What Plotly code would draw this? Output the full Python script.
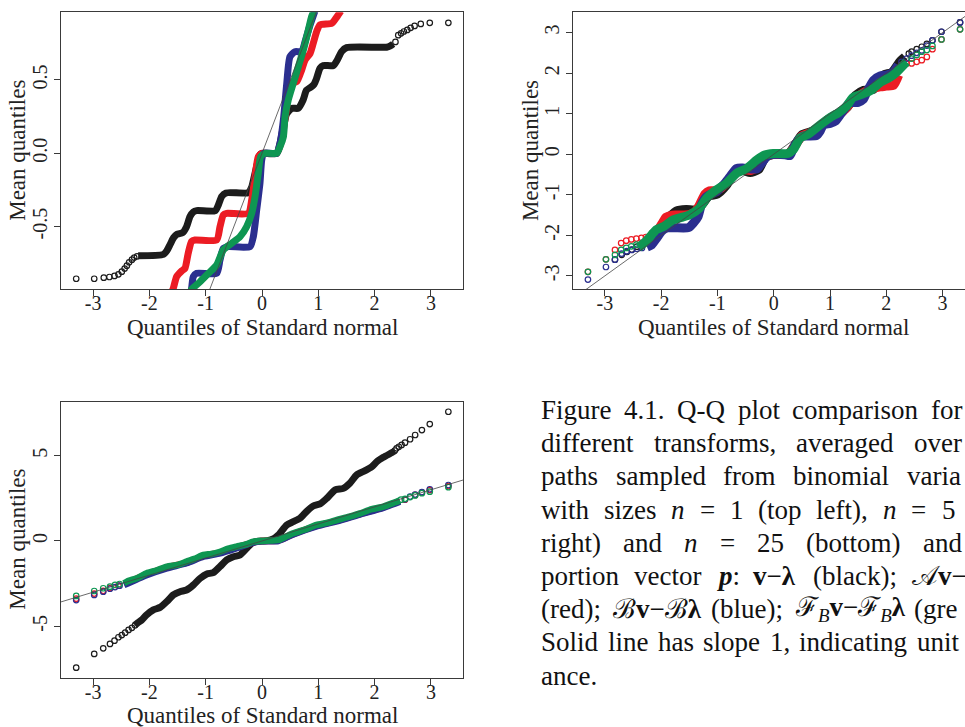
import plotly.graph_objects as go

W, H = 965, 727
FONT = "Liberation Serif"
C_BLACK = "#1c1c1c"
C_RED = "#ec1c24"
C_BLUE = "#2b2f8f"
C_GREEN = "#0e9652"
C_AXIS = "#3a3a3a"

# ---------------- data ----------------
x_tick_vals = [-3, -2, -1, 0, 1, 2, 3]
x_tick_text = ["-3", "-2", "-1", "0", "1", "2", "3"]
p1_ytick_vals = [-0.5, 0.0, 0.5]
p1_ytick_text = ["-0.5", "0.0", "0.5"]
p2_ytick_vals = [-3, -2, -1, 0, 1, 2, 3]
p2_ytick_text = ["-3", "-2", "-1", "0", "1", "2", "3"]
p3_ytick_vals = [-5, 0, 5]
p3_ytick_text = ["-5", "0", "5"]
ref_x = [-4.0, 4.0]   # unit-slope reference line y = x

# panel 1 (n = 1)
p1_black_x = [-2.20, -1.75, -1.69, -1.63, -1.57, -1.51, -1.41, -1.34, -1.28, -1.22, -1.16, -0.83, -0.775, -0.716, -0.64, -0.243, -0.183, -0.124, -0.036, 0.0, 0.26, 0.32, 0.38, 0.44, 0.53, 0.645, 0.73, 0.79, 0.864, 0.923, 0.97, 1.03, 1.089, 1.266, 1.337, 1.414, 1.503, 2.213, 2.28, 2.33]
p1_black_y = [-0.698, -0.689, -0.664, -0.620, -0.575, -0.552, -0.541, -0.50, -0.432, -0.40, -0.391, -0.391, -0.352, -0.295, -0.27, -0.268, -0.230, -0.136, -0.01, 0.0, 0.0, 0.068, 0.18, 0.27, 0.307, 0.307, 0.363, 0.43, 0.45, 0.47, 0.511, 0.58, 0.598, 0.598, 0.636, 0.693, 0.72, 0.723, 0.732, 0.745]
p1_black_pts_x = [-3.30, -2.98, -2.81, -2.71, -2.62, -2.55, -2.49, -2.44, -2.40, -2.36, -2.31, -2.27, -2.22, 2.37, 2.42, 2.47, 2.52, 2.58, 2.64, 2.71, 2.82, 2.98, 3.31]
p1_black_pts_y = [-0.855, -0.855, -0.848, -0.843, -0.836, -0.825, -0.807, -0.786, -0.766, -0.743, -0.725, -0.711, -0.702, 0.759, 0.805, 0.818, 0.83, 0.841, 0.855, 0.868, 0.882, 0.889, 0.889]
p1_red_x = [-1.62, -1.575, -1.515, -1.42, -1.368, -1.31, -1.25, -1.19, -0.805, -0.746, -0.687, -0.627, -0.243, -0.183, -0.124, -0.066, 0.0, 0.26, 0.32, 0.38, 0.44, 0.497, 0.617, 0.705, 0.764, 0.853, 0.91, 0.97, 1.03, 1.24, 1.33, 1.40]
p1_red_y = [-0.96, -0.92, -0.84, -0.80, -0.784, -0.68, -0.60, -0.591, -0.591, -0.50, -0.42, -0.409, -0.409, -0.318, -0.16, -0.023, 0.0, 0.0, 0.05, 0.16, 0.32, 0.477, 0.488, 0.568, 0.636, 0.68, 0.75, 0.829, 0.875, 0.886, 0.93, 0.97]
p1_blue_x = [-1.28, -1.25, -1.22, -1.16, -0.805, -0.746, -0.687, -0.60, -0.213, -0.154, -0.094, -0.036, -0.005, 0.03, 0.26, 0.32, 0.38, 0.44, 0.497, 0.586, 0.705, 0.764, 0.85, 0.94]
p1_blue_y = [-0.97, -0.92, -0.84, -0.818, -0.818, -0.727, -0.648, -0.636, -0.636, -0.568, -0.386, -0.204, -0.045, 0.0, 0.0, 0.068, 0.227, 0.477, 0.659, 0.693, 0.693, 0.76, 0.87, 0.97]
p1_green_x = [-1.28, -1.25, -1.10, -0.95, -0.805, -0.687, -0.54, -0.39, -0.272, -0.183, -0.124, -0.066, -0.023, 0.06, 0.26, 0.32, 0.38, 0.41, 0.467, 0.556, 0.645, 0.734, 0.823, 0.88, 0.92]
p1_green_y = [-0.95, -0.927, -0.875, -0.818, -0.761, -0.659, -0.614, -0.568, -0.50, -0.409, -0.296, -0.136, -0.023, 0.0, 0.0, 0.045, 0.113, 0.25, 0.363, 0.477, 0.59, 0.704, 0.84, 0.93, 0.97]

# panel 2 (n = 5)
p2_black_x = [-2.25, -2.1, -2.0, -1.9, -1.73, -1.55, -1.38, -1.28, -1.15, -1.0, -0.85, -0.7, -0.55, -0.42, -0.27, -0.15, 0.0, 0.25, 0.4, 0.5, 0.65, 0.8, 0.95, 1.1, 1.3, 1.45, 1.6, 1.77, 1.95, 2.1, 2.25, 2.33]
p2_black_y = [-2.12, -1.98, -1.88, -1.62, -1.40, -1.36, -1.37, -1.25, -1.03, -0.98, -0.78, -0.47, -0.40, -0.45, -0.38, -0.08, 0.0, 0.0, 0.28, 0.48, 0.55, 0.65, 0.85, 0.97, 1.15, 1.45, 1.58, 1.60, 1.95, 2.02, 2.3, 2.40]
p2_black_pts_x = [-2.82, -2.70, -2.61, -2.52, -2.43, -2.34, 2.40, 2.45, 2.54, 2.63, 2.72, 2.82, 2.98, 3.31]
p2_black_pts_y = [-2.60, -2.48, -2.41, -2.35, -2.28, -2.20, 2.48, 2.53, 2.59, 2.65, 2.72, 2.81, 3.02, 3.25]
p2_red_x = [-2.18, -2.08, -1.99, -1.91, -1.80, -1.65, -1.49, -1.40, -1.32, -1.22, -1.14, -1.05, -0.95, -0.85, -0.70, -0.55, -0.40, -0.28, -0.15, 0.0, 0.25, 0.4, 0.5, 0.62, 0.75, 0.9, 1.05, 1.23, 1.41, 1.55, 1.7, 1.89, 2.0, 2.13, 2.22]
p2_red_y = [-1.99, -1.90, -1.72, -1.55, -1.50, -1.50, -1.48, -1.42, -1.25, -0.98, -0.90, -0.90, -0.85, -0.72, -0.45, -0.38, -0.40, -0.30, -0.06, 0.0, 0.0, 0.25, 0.45, 0.52, 0.58, 0.78, 0.88, 1.05, 1.33, 1.48, 1.60, 1.66, 1.68, 1.70, 1.95]
p2_red_pts_x = [-3.30, -2.98, -2.82, -2.71, -2.62, -2.53, -2.44, -2.35, -2.27, 2.27, 2.36, 2.45, 2.54, 2.63, 2.72, 2.82, 2.98, 3.31]
p2_red_pts_y = [-2.90, -2.59, -2.36, -2.19, -2.13, -2.10, -2.08, -2.06, -2.04, 2.20, 2.24, 2.24, 2.28, 2.32, 2.40, 2.59, 2.83, 3.08]
p2_blue_x = [-2.25, -2.166, -2.077, -1.99, -1.90, -1.78, -1.515, -1.43, -1.345, -1.285, -1.19, -1.01, -0.893, -0.775, -0.66, -0.55, -0.42, -0.30, -0.213, -0.124, -0.036, 0.2, 0.29, 0.35, 0.438, 0.527, 0.615, 0.76, 0.82, 0.88, 1.0, 1.1, 1.237, 1.35, 1.5, 1.59, 1.65, 1.77, 1.89, 2.0, 2.12, 2.21]
p2_blue_y = [-2.29, -2.23, -2.066, -1.90, -1.82, -1.81, -1.81, -1.70, -1.54, -1.25, -1.04, -0.918, -0.754, -0.549, -0.35, -0.34, -0.36, -0.36, -0.221, -0.057, -0.01, -0.01, -0.03, 0.148, 0.352, 0.45, 0.45, 0.46, 0.56, 0.72, 0.76, 0.82, 1.08, 1.27, 1.28, 1.35, 1.52, 1.82, 1.93, 1.95, 2.02, 2.2]
p2_blue_pts_x = [-3.30, -2.98, -2.82, -2.70, -2.61, -2.52, -2.43, -2.34, 2.27, 2.36, 2.45, 2.54, 2.63, 2.72, 2.82, 2.98, 3.31]
p2_blue_pts_y = [-3.09, -2.78, -2.60, -2.45, -2.39, -2.36, -2.33, -2.31, 2.28, 2.36, 2.43, 2.50, 2.56, 2.68, 2.81, 3.02, 3.25]
p2_green_x = [-2.40, -2.25, -2.085, -1.95, -1.79, -1.62, -1.49, -1.32, -1.19, -1.02, -0.84, -0.66, -0.48, -0.30, -0.16, 0.0, 0.25, 0.35, 0.47, 0.62, 0.82, 1.03, 1.15, 1.295, 1.41, 1.53, 1.71, 1.89, 2.065, 2.18, 2.27, 2.36]
p2_green_y = [-2.30, -2.12, -1.86, -1.78, -1.62, -1.55, -1.49, -1.33, -1.08, -0.88, -0.72, -0.47, -0.35, -0.14, -0.02, 0.02, 0.02, 0.12, 0.40, 0.50, 0.72, 0.93, 1.02, 1.19, 1.40, 1.46, 1.56, 1.77, 1.90, 2.02, 2.15, 2.28]
p2_green_pts_x = [-3.30, -2.98, -2.82, -2.71, -2.62, -2.53, -2.44, 2.45, 2.54, 2.63, 2.72, 2.82, 2.98, 3.31]
p2_green_pts_y = [-2.90, -2.59, -2.48, -2.36, -2.31, -2.27, -2.23, 2.36, 2.45, 2.53, 2.57, 2.67, 2.83, 3.08]

# panel 3 (n = 25)
p3_black_x = [-2.26, -2.20, -2.137, -2.05, -1.93, -1.81, -1.69, -1.575, -1.456, -1.34, -1.22, -1.10, -0.98, -0.865, -0.746, -0.627, -0.51, -0.39, -0.272, -0.183, -0.09, 0.0, 0.1, 0.2, 0.29, 0.44, 0.556, 0.675, 0.79, 0.91, 1.03, 1.15, 1.30, 1.444, 1.56, 1.68, 1.83, 1.95, 2.04, 2.155, 2.31, 2.36]
p3_black_y = [-4.94, -4.78, -4.63, -4.33, -4.04, -3.89, -3.55, -3.16, -2.97, -2.87, -2.58, -2.19, -1.93, -1.86, -1.50, -1.11, -0.92, -0.82, -0.43, -0.135, -0.02, 0.0, 0.02, 0.12, 0.35, 0.94, 1.13, 1.33, 1.72, 2.05, 2.17, 2.50, 2.99, 3.08, 3.38, 3.87, 4.12, 4.35, 4.65, 4.90, 5.18, 5.28]
p3_black_pts_x = [-3.30, -2.98, -2.82, -2.70, -2.62, -2.55, -2.49, -2.43, -2.37, -2.31, -2.256, 2.36, 2.39, 2.43, 2.48, 2.54, 2.63, 2.72, 2.84, 2.98, 3.31]
p3_black_pts_y = [-7.42, -6.62, -6.29, -6.03, -5.84, -5.64, -5.51, -5.37, -5.21, -5.09, -4.94, 5.30, 5.43, 5.52, 5.63, 5.76, 5.96, 6.21, 6.50, 6.85, 7.57]
p3_red_x = [-2.45, -2.05, -1.69, -1.34, -1.04, -0.746, -0.45, -0.155, 0.0, 0.29, 0.556, 0.97, 1.33, 1.74, 2.155, 2.45]
p3_red_y = [-2.52, -1.95, -1.55, -1.27, -0.88, -0.68, -0.38, -0.08, 0.0, 0.02, 0.40, 0.88, 1.18, 1.58, 1.97, 2.34]
p3_red_pts_x = [-3.30, -2.98, -2.82, -2.70, -2.55, 2.54, 2.72, 2.84, 2.98, 3.31]
p3_red_pts_y = [-3.38, -3.08, -2.92, -2.76, -2.62, 2.42, 2.70, 2.84, 2.98, 3.22]
p3_blue_x = [-2.45, -2.05, -1.69, -1.34, -1.04, -0.746, -0.45, -0.155, 0.0, 0.29, 0.556, 0.97, 1.33, 1.74, 2.155, 2.45]
p3_blue_y = [-2.58, -2.0, -1.6, -1.30, -0.92, -0.72, -0.42, -0.10, -0.02, 0.0, 0.38, 0.85, 1.15, 1.55, 1.94, 2.30]
p3_blue_pts_x = [-3.30, -2.98, -2.82, -2.70, -2.61, -2.53, 2.54, 2.63, 2.72, 2.84, 2.98, 3.31]
p3_blue_pts_y = [-3.46, -3.16, -2.97, -2.80, -2.70, -2.62, 2.44, 2.60, 2.72, 2.86, 3.03, 3.28]
p3_green_x = [-2.45, -2.40, -2.2, -2.05, -1.87, -1.69, -1.5, -1.34, -1.2, -1.04, -0.9, -0.746, -0.6, -0.45, -0.3, -0.155, 0.0, 0.15, 0.29, 0.45, 0.556, 0.75, 0.97, 1.15, 1.33, 1.55, 1.74, 1.95, 2.155, 2.35, 2.45]
p3_green_y = [-2.48, -2.38, -2.15, -1.89, -1.72, -1.50, -1.40, -1.21, -1.05, -0.82, -0.76, -0.63, -0.45, -0.33, -0.22, -0.04, 0.0, 0.03, 0.06, 0.30, 0.45, 0.66, 0.94, 1.06, 1.23, 1.42, 1.62, 1.86, 2.01, 2.25, 2.38]
p3_green_pts_x = [-3.30, -2.98, -2.82, -2.70, -2.61, -2.53, 2.47, 2.54, 2.63, 2.72, 2.84, 2.98, 3.31]
p3_green_pts_y = [-3.22, -2.93, -2.77, -2.68, -2.57, -2.52, 2.42, 2.47, 2.57, 2.67, 2.80, 2.89, 3.15]

# caption: visible words per line as (html, plain text used for width)
caption_lines = [
    [("Figure", "Figure"), ("4.1.", "4.1."), ("Q-Q", "Q-Q"), ("plot", "plot"), ("comparison", "comparison"), ("for", "for")],
    [("different", "different"), ("transforms,", "transforms,"), ("averaged", "averaged"), ("over", "over")],
    [("paths", "paths"), ("sampled", "sampled"), ("from", "from"), ("binomial", "binomial"), ("varia", "varia")],
    [("with", "with"), ("sizes", "sizes"), ("<i>n</i>", "n"), ("=", "="), ("1", "1"), ("(top", "(top"), ("left),", "left),"), ("<i>n</i>", "n"), ("=", "="), ("5", "5")],
    [("right)", "right)"), ("and", "and"), ("<i>n</i>", "n"), ("=", "="), ("25", "25"), ("(bottom)", "(bottom)"), ("and", "and")],
    [("portion", "portion"), ("vector", "vector"), ("<b><i>p</i></b>:", "p:"), ("<b>v</b>\u2212<b>\u03bb</b>", "v\u2212\u03bb"), ("(black);", "(black);"), ("\U0001D49C<b>v</b>\u2212", "\U0001D49Cv\u2212")],
    [("(red);", "(red);"), ("\u212C<b>v</b>\u2212\u212C<b>\u03bb</b>", "\u212Cv\u2212\u212C\u03bb"), ("(blue);", "(blue);"), ("\u2131<sub><i>B</i></sub><b>v</b>\u2212\u2131<sub><i>B</i></sub><b>\u03bb</b>", "\u2131Bv\u2212\u2131B\u03bb"), ("(gre", "(gre")],
    [("Solid", "Solid"), ("line", "line"), ("has", "has"), ("slope", "slope"), ("1,", "1,"), ("indicating", "indicating"), ("unit", "unit")],
    [("ance.", "ance.")],
]

# ---------------- layout geometry (pixels) ----------------
def px_x(px):
    return px / W

def px_y(py):
    return 1 - py / H

P1 = dict(l=61, r=463, t=12.3, b=289.3)
P2 = dict(l=573.3, r=965, t=12.3, b=289.3)
P3 = dict(l=61, r=463, t=401.7, b=677.7)

CAP_SIZE = 27
CAP_LEFT = 539
CAP_BASE0 = 418
CAP_LEAD = 33.2
# justification anchors: (word index, side, target px)
caption_anchor = [(5, "right", 960), (3, "right", 960), (4, "left", 905), (9, "right", 953),
                  (6, "right", 960), (5, "left", 910), (4, "left", 912), (6, "right", 957), None]

# approximate Times advance widths (em) used to justify the caption lines
_TW = {" ": .25, "(": .333, ")": .333, ",": .25, "-": .333, ".": .25, ":": .278, ";": .278, "=": .564,
       "F": .556, "Q": .722, "S": .556, "a": .444, "b": .5, "c": .444, "d": .5, "e": .444, "f": .333,
       "g": .5, "h": .5, "i": .278, "k": .5, "l": .278, "m": .778, "n": .5, "o": .5, "p": .5, "r": .333,
       "s": .389, "t": .278, "u": .5, "v": .5, "w": .722, "z": .444, "\u2212": .564, "\u03bb": .6,
       "\U0001D49C": .8, "\u212C": .75, "\u2131": .7, "B": .45}

def word_w(s):
    return sum(_TW.get(ch, .5) for ch in s) * CAP_SIZE

fig = go.Figure()

def add_curve(x, y, color, width, xa, ya):
    fig.add_trace(go.Scatter(x=x, y=y, mode="lines", xaxis=xa, yaxis=ya,
                             line=dict(color=color, width=width, shape="spline", smoothing=0.6),
                             showlegend=False, hoverinfo="skip"))

def add_points(x, y, color, xa, ya):
    fig.add_trace(go.Scatter(x=x, y=y, mode="markers", xaxis=xa, yaxis=ya,
                             marker=dict(symbol="circle-open", size=5.5, color=color,
                                         line=dict(width=1.2, color=color)),
                             showlegend=False, hoverinfo="skip"))

def add_ref(xa, ya):
    fig.add_trace(go.Scatter(x=ref_x, y=ref_x, mode="lines", xaxis=xa, yaxis=ya,
                             line=dict(color="#444444", width=0.8),
                             showlegend=False, hoverinfo="skip"))

# panel 1
add_points(p1_black_pts_x, p1_black_pts_y, C_BLACK, "x", "y")
add_curve(p1_black_x, p1_black_y, C_BLACK, 7, "x", "y")
add_curve(p1_red_x, p1_red_y, C_RED, 7, "x", "y")
add_curve(p1_blue_x, p1_blue_y, C_BLUE, 7, "x", "y")
add_curve(p1_green_x, p1_green_y, C_GREEN, 7, "x", "y")
add_ref("x", "y")

# panel 2
add_points(p2_black_pts_x, p2_black_pts_y, C_BLACK, "x2", "y2")
add_curve(p2_black_x, p2_black_y, C_BLACK, 9, "x2", "y2")
add_points(p2_red_pts_x, p2_red_pts_y, C_RED, "x2", "y2")
add_curve(p2_red_x, p2_red_y, C_RED, 9, "x2", "y2")
add_points(p2_blue_pts_x, p2_blue_pts_y, C_BLUE, "x2", "y2")
add_curve(p2_blue_x, p2_blue_y, C_BLUE, 9, "x2", "y2")
add_points(p2_green_pts_x, p2_green_pts_y, C_GREEN, "x2", "y2")
add_curve(p2_green_x, p2_green_y, C_GREEN, 9, "x2", "y2")
add_ref("x2", "y2")

# panel 3
add_points(p3_black_pts_x, p3_black_pts_y, C_BLACK, "x3", "y3")
add_curve(p3_black_x, p3_black_y, C_BLACK, 7, "x3", "y3")
add_points(p3_red_pts_x, p3_red_pts_y, C_RED, "x3", "y3")
add_curve(p3_red_x, p3_red_y, C_RED, 6.5, "x3", "y3")
add_points(p3_blue_pts_x, p3_blue_pts_y, C_BLUE, "x3", "y3")
add_curve(p3_blue_x, p3_blue_y, C_BLUE, 6.5, "x3", "y3")
add_points(p3_green_pts_x, p3_green_pts_y, C_GREEN, "x3", "y3")
add_curve(p3_green_x, p3_green_y, C_GREEN, 6.5, "x3", "y3")
add_ref("x3", "y3")

tickfont = dict(family=FONT, size=20, color="#222222")

def xaxis_cfg(P, rng):
    return dict(domain=[px_x(P["l"]), px_x(P["r"])], range=rng,
                tickmode="array", tickvals=x_tick_vals, ticktext=x_tick_text,
                ticks="outside", ticklen=6, tickwidth=1.1, tickcolor=C_AXIS,
                showline=True, linecolor=C_AXIS, linewidth=1.3, mirror=True,
                showgrid=False, zeroline=False, tickfont=tickfont, ticklabelstandoff=-10,
                fixedrange=True)

def yaxis_cfg(P, rng, vals, text, mirror=True):
    return dict(domain=[px_y(P["b"]), px_y(P["t"])], range=rng,
                tickmode="array", tickvals=vals, ticktext=text, tickangle=-90,
                ticks="outside", ticklen=6, tickwidth=1.1, tickcolor=C_AXIS,
                showline=True, linecolor=C_AXIS, linewidth=1.3, mirror=mirror,
                showgrid=False, zeroline=False, tickfont=tickfont, ticklabelstandoff=-1,
                fixedrange=True)

annotations = []
title_font = dict(family=FONT, size=23, color="#222222")

def axis_titles(P, xcenter_px):
    annotations.append(dict(text="Quantiles of Standard normal", xref="paper", yref="paper",
                            x=px_x(xcenter_px), y=px_y(P["b"] + 38), xanchor="center", yanchor="middle",
                            showarrow=False, font=title_font))
    annotations.append(dict(text="Mean quantiles", xref="paper", yref="paper",
                            x=px_x(P["l"] - 43), y=px_y((P["t"] + P["b"]) / 2), xanchor="center",
                            yanchor="middle", textangle=-90, showarrow=False, font=title_font))

axis_titles(P1, (P1["l"] + P1["r"]) / 2)
axis_titles(P2, 773.7)
axis_titles(P3, (P3["l"] + P3["r"]) / 2)

cap_font = dict(family=FONT, size=CAP_SIZE, color="#111111")
for i, words in enumerate(caption_lines):
    base = CAP_BASE0 + CAP_LEAD * i
    anchor = caption_anchor[i]
    widths = [word_w(p) for _, p in words]
    gap = 0.25 * CAP_SIZE
    if anchor is not None:
        k, side, target = anchor
        if side == "right":
            gap = (target - CAP_LEFT - sum(widths[:k + 1])) / k
        else:
            gap = (target - CAP_LEFT - sum(widths[:k])) / k
    xcur = CAP_LEFT
    for (html, _), wdt in zip(words, widths):
        annotations.append(dict(text=html, xref="paper", yref="paper", x=px_x(xcur), y=px_y(base - 8),
                                xanchor="left", yanchor="middle", showarrow=False, font=cap_font))
        xcur += wdt + gap

fig.update_layout(
    width=W, height=H, margin=dict(l=0, r=0, t=0, b=0),
    paper_bgcolor="white", plot_bgcolor="white", showlegend=False,
    xaxis=dict(xaxis_cfg(P1, [-3.57, 3.57]), anchor="y"),
    yaxis=dict(yaxis_cfg(P1, [-0.927, 0.961], p1_ytick_vals, p1_ytick_text), anchor="x"),
    xaxis2=dict(xaxis_cfg(P2, [-3.56, 3.398]), anchor="y2"),
    yaxis2=dict(yaxis_cfg(P2, [-3.33, 3.50], p2_ytick_vals, p2_ytick_text, mirror=False), anchor="x2"),
    xaxis3=dict(xaxis_cfg(P3, [-3.57, 3.57]), anchor="y3"),
    yaxis3=dict(yaxis_cfg(P3, [-8.01, 8.16], p3_ytick_vals, p3_ytick_text), anchor="x3"),
    annotations=annotations,
)

fig.write_html("out.html", config={"displayModeBar": False})
